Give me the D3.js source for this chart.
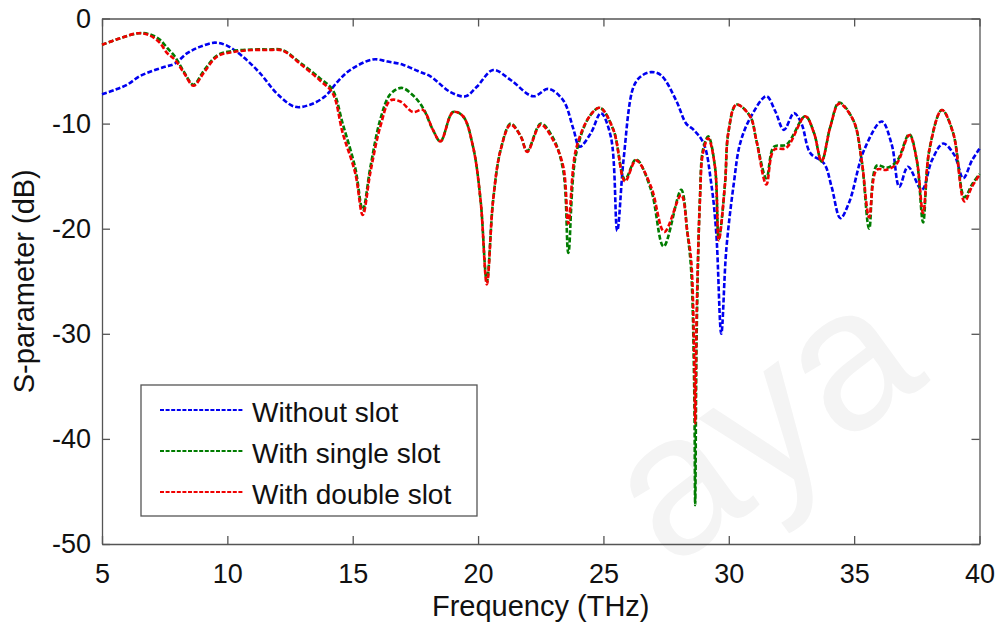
<!DOCTYPE html>
<html>
<head>
<meta charset="utf-8">
<script src="https://cdn.jsdelivr.net/npm/d3@7"></script>
<style>
  body { margin: 0; background: #fff; }
  svg { display: block; font-family: "Liberation Sans", Arial, sans-serif; }
</style>
</head>
<body>
<div id="chart"></div>
<script>
// frequency (THz) / S-parameter (dB) pairs
const withoutSlot = [
  [5.0, -7.2], [5.5, -6.8], [6.0, -6.3], [6.5, -5.5], [7.0, -5.0], [7.5, -4.6], [7.9, -4.3],
  [8.4, -3.3], [8.9, -2.7], [9.5, -2.3], [10.0, -2.6], [10.6, -3.6], [11.3, -5.2], [12.0, -7.2],
  [12.7, -8.4], [13.3, -8.2], [13.9, -7.4], [14.4, -6.0], [14.9, -4.9], [15.8, -3.9], [16.4, -4.1],
  [17.0, -4.4], [17.6, -5.0], [18.1, -5.5], [18.9, -7.0], [19.5, -7.4], [19.95, -6.5], [20.6, -4.9],
  [21.3, -5.85], [22.2, -7.4], [22.8, -6.7], [23.4, -7.8], [23.8, -10.5], [24.05, -12.2], [24.5, -10.9],
  [24.9, -9.0], [25.3, -11.3], [25.55, -20.2], [25.8, -13.5], [26.2, -6.5], [26.5, -5.5], [26.9, -5.1],
  [27.3, -5.4], [27.9, -7.8], [28.3, -10.0], [28.6, -10.6], [29.0, -11.9], [29.3, -15.7], [29.5, -20.4],
  [29.7, -30.0], [29.9, -22.0], [30.2, -15.7], [30.45, -11.9], [30.85, -9.5], [31.5, -7.4], [31.85, -8.8],
  [32.2, -10.6], [32.6, -9.0], [32.9, -10.0], [33.25, -12.8], [33.8, -13.8], [34.1, -16.0], [34.45, -19.0],
  [34.8, -17.5], [35.4, -12.5], [36.1, -9.8], [36.5, -12.0], [36.8, -16.0], [37.15, -14.1], [37.7, -16.3],
  [38.1, -13.5], [38.55, -11.9], [39.0, -13.0], [39.35, -15.2], [39.7, -13.5], [40.0, -12.4]
];

const singleSlot = [
  [5.0, -2.5], [5.7, -1.9], [6.45, -1.4], [6.9, -1.5], [7.3, -2.0], [7.6, -2.8], [7.9, -3.6],
  [8.25, -5.0], [8.65, -6.3], [9.05, -5.0], [9.6, -3.5], [10.2, -3.1], [11.0, -2.95], [11.6, -2.95],
  [12.2, -3.0], [12.9, -4.2], [13.7, -5.7], [14.2, -6.8], [14.6, -10.0], [15.1, -14.2], [15.4, -18.2],
  [15.7, -14.2], [16.1, -9.6], [16.5, -7.2], [16.95, -6.6], [17.4, -7.3], [17.8, -8.5], [18.2, -10.6],
  [18.5, -11.7], [19.0, -8.9], [19.4, -9.3], [19.8, -12.2], [20.1, -17.3], [20.35, -25.0], [20.6, -17.3],
  [20.9, -12.5], [21.3, -10.0], [21.7, -11.2], [21.96, -12.6], [22.5, -10.0], [23.0, -11.4], [23.4, -14.5],
  [23.6, -22.3], [23.9, -13.0], [24.45, -9.3], [24.86, -8.5], [25.4, -10.6], [25.86, -15.3], [26.3, -13.4],
  [26.9, -16.3], [27.4, -21.7], [28.1, -16.3], [28.35, -20.4], [28.5, -24.0], [28.62, -35.0], [28.66, -46.3],
  [28.72, -30.0], [28.85, -17.0], [28.97, -12.5], [29.18, -11.2], [29.45, -14.1], [29.6, -21.0], [29.85, -15.7],
  [29.98, -10.9], [30.3, -8.2], [30.85, -9.3], [31.1, -11.6], [31.5, -15.2], [31.8, -12.2], [32.3, -12.0],
  [33.05, -9.3], [33.4, -10.9], [33.7, -13.6], [34.05, -10.3], [34.4, -8.0], [34.97, -9.7], [35.3, -13.5],
  [35.6, -20.0], [35.9, -14.0], [36.3, -14.2], [36.7, -13.6], [37.2, -11.0], [37.5, -13.5], [37.75, -19.4],
  [38.0, -12.5], [38.5, -8.7], [38.95, -10.9], [39.4, -17.0], [39.7, -15.8], [40.0, -14.8]
];

const doubleSlot = [
  [5.0, -2.5], [5.7, -1.9], [6.45, -1.4], [6.9, -1.6], [7.3, -2.3], [7.6, -3.3], [7.9, -3.9],
  [8.25, -5.1], [8.65, -6.4], [9.05, -5.2], [9.6, -3.6], [10.2, -3.2], [11.0, -3.0], [11.6, -3.0],
  [12.2, -3.05], [12.9, -4.3], [13.7, -5.9], [14.2, -7.1], [14.6, -10.9], [15.1, -14.7], [15.4, -18.7],
  [15.7, -14.7], [16.1, -10.3], [16.5, -7.8], [16.9, -7.9], [17.4, -8.9], [17.8, -8.7], [18.2, -10.6],
  [18.5, -11.7], [19.0, -8.9], [19.4, -9.3], [19.8, -12.2], [20.1, -17.3], [20.35, -25.3], [20.6, -17.3],
  [20.9, -12.5], [21.3, -10.1], [21.7, -11.2], [21.96, -12.7], [22.5, -10.1], [23.0, -11.6], [23.4, -14.1],
  [23.6, -19.5], [23.9, -12.5], [24.45, -9.3], [24.86, -8.5], [25.4, -10.6], [25.86, -15.5], [26.3, -13.5],
  [26.9, -16.0], [27.43, -20.3], [28.1, -16.8], [28.35, -20.4], [28.5, -23.0], [28.62, -32.0], [28.66, -38.5],
  [28.72, -28.0], [28.85, -17.3], [28.97, -12.8], [29.18, -11.4], [29.45, -14.1], [29.6, -21.1], [29.85, -15.7],
  [29.98, -10.9], [30.3, -8.2], [30.85, -9.3], [31.1, -11.6], [31.5, -15.8], [31.8, -12.5], [32.3, -12.3],
  [33.05, -9.3], [33.4, -10.9], [33.7, -13.6], [34.05, -10.3], [34.4, -8.1], [34.97, -9.7], [35.3, -13.5],
  [35.6, -18.9], [35.9, -14.4], [36.3, -14.4], [36.7, -13.8], [37.2, -11.1], [37.5, -13.5], [37.75, -18.5],
  [38.0, -12.5], [38.5, -8.7], [38.95, -10.9], [39.4, -17.4], [39.7, -16.0], [40.0, -14.9]
];

const xTicks = [5, 10, 15, 20, 25, 30, 35, 40];
const yTicks = [0, -10, -20, -30, -40, -50];

const seriesNames = ["Without slot", "With single slot", "With double slot"];
const seriesColors = ["#0000f0", "#007c00", "#f00000"];

const width = 1003;
const height = 622;
const margin = { top: 18.5, right: 23.5, bottom: 78, left: 102 };
const innerW = width - margin.left - margin.right;
const innerH = height - margin.top - margin.bottom;

const svg = d3.select("#chart").append("svg")
    .attr("width", width)
    .attr("height", height);

// faint watermark behind the plot
svg.append("text")
    .attr("transform", "translate(670,570) rotate(-36)")
    .attr("font-size", 200)
    .attr("fill", "#f4f4f4")
    .text("aya");

const g = svg.append("g").attr("transform", `translate(${margin.left},${margin.top})`);

const x = d3.scaleLinear().domain([5, 40]).range([0, innerW]);
const y = d3.scaleLinear().domain([-50, 0]).range([innerH, 0]);

// axes with inward ticks on all four sides
const axisColor = "#555";
const tickLen = 8;

const styleAxis = sel => {
    sel.select(".domain").attr("stroke", axisColor).attr("stroke-width", 1.3);
    sel.selectAll(".tick line").attr("stroke", axisColor).attr("stroke-width", 1.3);
    sel.selectAll("text").attr("fill", "#111").style("font-size", "27px");
};

g.append("g")
    .attr("transform", `translate(0,${innerH})`)
    .call(d3.axisBottom(x).tickValues(xTicks).tickSize(-tickLen).tickPadding(20).tickSizeOuter(0))
    .call(styleAxis);

g.append("g")
    .call(d3.axisTop(x).tickValues(xTicks).tickSize(-tickLen).tickFormat("").tickSizeOuter(0))
    .call(styleAxis);

g.append("g")
    .call(d3.axisLeft(y).tickValues(yTicks).tickSize(-tickLen).tickPadding(11).tickSizeOuter(0))
    .call(styleAxis)
    .selectAll("text").text(d => String(d).replace("−", "-"));

g.append("g")
    .attr("transform", `translate(${innerW},0)`)
    .call(d3.axisRight(y).tickValues(yTicks).tickSize(-tickLen).tickFormat("").tickSizeOuter(0))
    .call(styleAxis);

// axis titles
svg.append("text")
    .attr("x", margin.left + innerW / 2)
    .attr("y", 616)
    .attr("text-anchor", "middle")
    .attr("fill", "#111")
    .style("font-size", "29px")
    .text("Frequency (THz)");

svg.append("text")
    .attr("transform", `translate(34,${margin.top + innerH / 2}) rotate(-90)`)
    .attr("text-anchor", "middle")
    .attr("fill", "#111")
    .style("font-size", "29px")
    .text("S-parameter (dB)");

// curves
const line = d3.line()
    .x(d => x(d[0]))
    .y(d => y(d[1]))
    .curve(d3.curveCatmullRom.alpha(0.5));

[withoutSlot, singleSlot, doubleSlot].forEach((data, i) => {
    g.append("path")
        .datum(data)
        .attr("d", line)
        .attr("fill", "none")
        .attr("stroke", seriesColors[i])
        .attr("stroke-width", 2.6)
        .attr("stroke-dasharray", "5,2.2");
});

// legend
const legend = svg.append("g").attr("transform", "translate(141,385)");

legend.append("rect")
    .attr("width", 336)
    .attr("height", 131)
    .attr("fill", "#fff")
    .attr("stroke", axisColor)
    .attr("stroke-width", 1.3);

seriesNames.forEach((name, i) => {
    const rowY = 25 + i * 41;
    legend.append("line")
        .attr("x1", 19).attr("x2", 102)
        .attr("y1", rowY).attr("y2", rowY)
        .attr("stroke", seriesColors[i])
        .attr("stroke-width", 2)
        .attr("stroke-dasharray", "4,1.6");
    legend.append("text")
        .attr("x", 111)
        .attr("y", rowY + 12)
        .attr("fill", "#111")
        .style("font-size", "28px")
        .text(name);
});
</script>
</body>
</html>
